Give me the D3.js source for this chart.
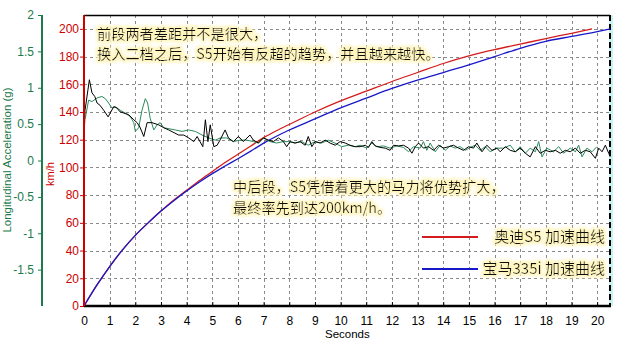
<!DOCTYPE html>
<html>
<head>
<meta charset="utf-8">
<script src="https://cdn.jsdelivr.net/npm/d3@7"></script>
<style>
  body { margin: 0; background: #fff; }
  svg { display: block; }
</style>
</head>
<body>
<div id="chart"></div>
<script>
// seconds on the x axis, speed ticks (km/h), acceleration ticks (g)
const seconds = d3.range(0, 21);
const kmhTicks = d3.range(0, 201, 20);
const gTicks = [-1.5, -1, -0.5, 0, 0.5, 1, 1.5, 2];

// speed curves
const audiT = [0, 0.5, 1, 1.5, 2, 2.5, 3, 3.5, 4, 4.5, 5, 5.5, 6, 6.5, 7, 7.5, 8, 9, 10, 11, 12, 13, 14, 15, 16, 17, 18, 19, 19.8];
const audiKmh = [0, 15, 28.5, 40.5, 51, 60, 68.5, 76.5, 83.5, 90.5, 97, 103.5, 109.5, 115.5, 121.5, 126.5, 131, 140, 148, 155, 162, 168.5, 175, 180.5, 185, 189, 193, 196.8, 200];
const bmwT = [0, 0.5, 1, 1.5, 2, 2.5, 3, 3.5, 4, 4.5, 5, 5.5, 6, 6.5, 7, 7.5, 8, 9, 10, 11, 12, 13, 14, 15, 16, 17, 18, 19, 20, 20.5];
const bmwKmh = [0, 15, 28.5, 40.5, 51, 60, 68.5, 76, 83, 89.5, 95.5, 101, 106.3, 111.8, 117.5, 122.5, 127, 135, 143, 150, 157, 163, 168.5, 174, 180, 186, 191, 194.5, 198, 200];

// longitudinal acceleration traces [seconds, g]
const accelBlack = [
  [0, 0.45], [0.04, 0.69], [0.21, 1.11], [0.31, 0.93], [0.42, 0.88], [0.51, 0.79], [0.62, 0.76], [0.77, 0.69], [0.94, 0.60],
  [1.16, 0.74], [1.29, 0.72], [1.40, 0.67], [1.74, 0.63], [1.94, 0.56], [2.07, 0.52], [2.18, 0.46], [2.33, 0.33], [2.46, 0.52],
  [2.65, 0.52], [2.91, 0.49], [3.11, 0.45], [3.30, 0.42], [3.69, 0.35], [3.89, 0.35], [4.08, 0.31], [4.28, 0.26], [4.41, 0.33],
  [4.63, 0.19], [4.73, 0.56], [4.83, 0.26], [4.92, 0.49], [5.06, 0.19], [5.19, 0.21], [5.30, 0.28], [5.50, 0.42], [5.63, 0.31],
  [5.82, 0.26], [6.02, 0.33], [6.21, 0.26], [6.47, 0.35], [6.60, 0.28], [6.80, 0.24], [6.99, 0.31], [7.19, 0.28], [7.38, 0.26],
  [7.58, 0.31], [7.77, 0.26], [7.90, 0.19], [8.03, 0.26], [8.23, 0.24], [8.42, 0.26], [8.62, 0.21], [8.74, 0.33], [8.88, 0.19],
  [9.01, 0.26], [9.20, 0.24], [9.40, 0.28], [9.59, 0.24], [9.79, 0.21], [9.98, 0.26], [10.18, 0.24], [10.37, 0.21], [10.57, 0.19],
  [10.76, 0.19], [10.96, 0.21], [11.09, 0.18], [11.22, 0.26], [11.35, 0.20], [11.54, 0.18], [11.74, 0.17], [11.93, 0.14],
  [12.06, 0.21], [12.26, 0.20], [12.45, 0.21], [12.65, 0.17], [12.78, 0.10], [12.91, 0.19], [13.04, 0.24], [13.23, 0.17],
  [13.43, 0.19], [13.62, 0.14], [13.82, 0.21], [14.01, 0.17], [14.21, 0.19], [14.40, 0.21], [14.60, 0.17], [14.79, 0.14],
  [14.99, 0.19], [15.18, 0.17], [15.31, 0.24], [15.51, 0.12], [15.70, 0.21], [15.90, 0.14], [16.09, 0.17], [16.22, 0.12],
  [16.42, 0.19], [16.61, 0.14], [16.81, 0.12], [17.00, 0.17], [17.20, 0.10], [17.39, 0.05], [17.59, 0.19], [17.78, 0.10],
  [17.98, 0.14], [18.17, 0.12], [18.37, 0.14], [18.56, 0.10], [18.76, 0.14], [18.95, 0.12], [19.15, 0.17], [19.34, 0.10],
  [19.54, 0.14], [19.73, 0.12], [19.93, 0.03], [20.06, 0.17], [20.19, 0.12], [20.32, 0.21], [20.45, 0.10], [20.51, 0.05]
];
const accelGreen = [
  [0, 0.40], [0.04, 0.56], [0.18, 0.83], [0.31, 0.81], [0.51, 0.86], [0.70, 0.88], [0.83, 0.85], [0.96, 0.79], [1.09, 0.72],
  [1.22, 0.74], [1.42, 0.69], [1.61, 0.65], [1.81, 0.60], [1.94, 0.52], [2.00, 0.40], [2.13, 0.45], [2.26, 0.69], [2.39, 0.85],
  [2.48, 0.79], [2.58, 0.58], [2.72, 0.42], [2.85, 0.49], [2.97, 0.52], [3.11, 0.45], [3.56, 0.42], [3.82, 0.40], [4.08, 0.42],
  [4.34, 0.40], [4.60, 0.35], [4.86, 0.31], [5.12, 0.28], [5.31, 0.31], [5.56, 0.31], [5.82, 0.26], [6.08, 0.28], [6.34, 0.28],
  [6.60, 0.26], [6.79, 0.24], [6.99, 0.31], [7.25, 0.26], [7.51, 0.24], [7.77, 0.26], [7.96, 0.26], [8.22, 0.24], [8.48, 0.26],
  [8.74, 0.21], [9.00, 0.26], [9.26, 0.24], [9.52, 0.28], [9.78, 0.24], [10.04, 0.19], [10.30, 0.21], [10.57, 0.19],
  [10.76, 0.21], [11.02, 0.17], [11.22, 0.24], [11.41, 0.19], [11.67, 0.20], [11.93, 0.17], [12.19, 0.20], [12.45, 0.18],
  [12.65, 0.12], [12.84, 0.19], [13.10, 0.17], [13.23, 0.26], [13.36, 0.14], [13.49, 0.24], [13.69, 0.12], [13.88, 0.21],
  [14.08, 0.14], [14.27, 0.20], [14.47, 0.17], [14.66, 0.19], [14.86, 0.14], [15.05, 0.18], [15.25, 0.21], [15.44, 0.14],
  [15.64, 0.19], [15.83, 0.12], [16.09, 0.17], [16.35, 0.17], [16.61, 0.21], [16.81, 0.12], [17.00, 0.19], [17.20, 0.10],
  [17.39, 0.17], [17.59, 0.12], [17.72, 0.26], [17.85, 0.05], [18.04, 0.17], [18.30, 0.12], [18.50, 0.19], [18.69, 0.10],
  [18.95, 0.17], [19.15, 0.12], [19.28, 0.21], [19.41, 0.05], [19.60, 0.17], [19.80, 0.12], [19.99, 0.19]
];

const legendLabels = ["奥迪S5 加速曲线", "宝马335i 加速曲线"];
const noteTop = ["前段两者差距并不是很大，", "换入二档之后，S5开始有反超的趋势，并且越来越快。"];
const noteMid = ["中后段，S5凭借着更大的马力将优势扩大，", "最终率先到达200km/h。"];

const width = 620, height = 351;
const red = "#cc0000", green = "#1c7a4c";
const numFont = "'Liberation Sans', Arial, sans-serif";
const cjkFont = "'Noto Sans CJK SC', sans-serif";

const svg = d3.select("#chart").append("svg")
  .attr("width", width)
  .attr("height", height);

const defs = svg.append("defs");
const glow = defs.append("filter").attr("id", "glow")
  .attr("x", "-5%").attr("y", "-30%").attr("width", "110%").attr("height", "160%");
glow.append("feMorphology").attr("in", "SourceAlpha").attr("operator", "dilate").attr("radius", 2).attr("result", "d");
glow.append("feGaussianBlur").attr("in", "d").attr("stdDeviation", 1.8).attr("result", "b");
glow.append("feFlood").attr("flood-color", "#fff5bc").attr("result", "f");
glow.append("feComposite").attr("in", "f").attr("in2", "b").attr("operator", "in").attr("result", "g");
const merge = glow.append("feMerge");
merge.append("feMergeNode").attr("in", "g");
merge.append("feMergeNode").attr("in", "SourceGraphic");

const x = d3.scaleLinear().domain([0, 20.5]).range([84, 610]);
const yKmh = d3.scaleLinear().domain([0, 210]).range([306, 15]);
const yG = d3.scaleLinear().domain([-2, 2]).range([306, 15]);

// grid
const grid = svg.append("g")
  .attr("stroke", "#8a8a8a")
  .attr("stroke-dasharray", "3,3")
  .attr("stroke-width", 1);
grid.selectAll("line.v")
  .data(seconds.filter(d => d > 0))
  .join("line")
  .attr("class", "v")
  .attr("x1", d => Math.round(x(d)) + 0.5).attr("x2", d => Math.round(x(d)) + 0.5)
  .attr("y1", 15).attr("y2", 306);
grid.selectAll("line.h")
  .data(kmhTicks.filter(d => d > 0))
  .join("line")
  .attr("class", "h")
  .attr("y1", d => Math.round(yKmh(d)) + 0.5).attr("y2", d => Math.round(yKmh(d)) + 0.5)
  .attr("x1", 84).attr("x2", 610);

// right edge and top frame
svg.append("rect").attr("x", 609).attr("y", 15).attr("width", 4).attr("height", 291).attr("fill", "#c6f2f6");
svg.append("line").attr("x1", 610).attr("x2", 610).attr("y1", 15).attr("y2", 306)
  .attr("stroke", "#000").attr("stroke-width", 2).attr("stroke-dasharray", "6,3");
svg.append("line").attr("x1", 84).attr("x2", 610).attr("y1", 15.5).attr("y2", 15.5)
  .attr("stroke", "#000").attr("stroke-width", 1.5);

// speed lines
const speedLine = d3.line().curve(d3.curveMonotoneX)
  .x(d => x(d[0])).y(d => yKmh(d[1]));
svg.append("path")
  .datum(d3.zip(audiT, audiKmh))
  .attr("fill", "none").attr("stroke", "#d41c1c").attr("stroke-width", 1.3)
  .attr("d", speedLine);
svg.append("path")
  .datum(d3.zip(bmwT, bmwKmh))
  .attr("fill", "none").attr("stroke", "#1818c8").attr("stroke-width", 1.3)
  .attr("d", speedLine);

// acceleration traces
const accelLine = d3.line().x(d => x(d[0])).y(d => yG(d[1]));
svg.append("path")
  .datum(accelGreen)
  .attr("fill", "none").attr("stroke", "#2a8a5a").attr("stroke-width", 1)
  .attr("d", accelLine);
svg.append("path")
  .datum(accelBlack)
  .attr("fill", "none").attr("stroke", "#000").attr("stroke-width", 1)
  .attr("d", accelLine);

// x axis
const xAxis = svg.append("g").attr("transform", "translate(0,306)");
xAxis.call(d3.axisBottom(x).tickValues(d3.range(0, 20.5, 0.2)).tickSize(-2).tickFormat(""));
xAxis.call(d3.axisBottom(x).tickValues(seconds).tickSize(-4).tickPadding(10).tickFormat(d3.format("d")));
xAxis.selectAll(".domain").remove();
xAxis.append("line").attr("x1", 84).attr("x2", 611).attr("stroke", "#000").attr("stroke-width", 2.5);
xAxis.selectAll("text").attr("font-family", numFont).attr("font-size", 12).attr("fill", "#000");
svg.append("text")
  .attr("x", 325).attr("y", 338)
  .attr("font-family", numFont).attr("font-size", 11.5)
  .text("Seconds");

// speed axis (red)
const kAxis = svg.append("g").attr("transform", "translate(84,0)");
kAxis.call(d3.axisLeft(yKmh).tickValues(d3.range(0, 210, 4)).tickSize(2).tickFormat(""));
kAxis.call(d3.axisLeft(yKmh).tickValues(kmhTicks).tickSize(4).tickPadding(1));
kAxis.selectAll(".domain").remove();
kAxis.selectAll("line").attr("stroke", red);
kAxis.append("line").attr("y1", 15).attr("y2", 306).attr("stroke", red).attr("stroke-width", 2);
kAxis.selectAll("text").attr("font-family", numFont).attr("font-size", 12).attr("fill", red);
svg.append("text")
  .attr("transform", "translate(54,174) rotate(-90)")
  .attr("text-anchor", "middle")
  .attr("font-family", numFont).attr("font-size", 11).attr("fill", red)
  .text("km/h");

// acceleration axis (green)
const gAxis = svg.append("g").attr("transform", "translate(42,0)");
gAxis.call(d3.axisLeft(yG).tickValues(d3.range(-20, 21).map(d => d / 10)).tickSize(2).tickFormat(""));
gAxis.call(d3.axisLeft(yG).tickValues(gTicks).tickSize(4).tickPadding(4).tickFormat(d => d));
gAxis.selectAll(".domain").remove();
gAxis.selectAll("line").attr("stroke", green);
gAxis.append("line").attr("y1", 15).attr("y2", 306).attr("stroke", green).attr("stroke-width", 2);
gAxis.selectAll("text").attr("font-family", numFont).attr("font-size", 12).attr("fill", green);
svg.append("text")
  .attr("transform", "translate(11,160) rotate(-90)")
  .attr("text-anchor", "middle")
  .attr("font-family", numFont).attr("font-size", 11.5).attr("fill", green)
  .text("Longitudinal Acceleration (g)");

// notes, one text per line
function note(lines, x0, y0) {
  svg.append("g")
    .selectAll("text")
    .data(lines)
    .join("text")
    .attr("x", x0)
    .attr("y", (d, i) => y0 + i * 20.5)
    .attr("font-family", cjkFont).attr("font-size", 14.2).attr("fill", "#111")
    .attr("filter", "url(#glow)")
    .text(d => d);
}
note(noteTop, 97, 38.5);
note(noteMid, 233, 192);

// legend
const legend = svg.append("g");
const legendColors = ["#d41c1c", "#1818c8"];
const legendY = [237, 269];
legend.selectAll("line")
  .data(legendLabels)
  .join("line")
  .attr("x1", 422).attr("x2", 478)
  .attr("y1", (d, i) => legendY[i]).attr("y2", (d, i) => legendY[i])
  .attr("stroke", (d, i) => legendColors[i]).attr("stroke-width", 2);
legend.selectAll("text")
  .data(legendLabels)
  .join("text")
  .attr("x", 605)
  .attr("y", (d, i) => legendY[i] + 5)
  .attr("text-anchor", "end")
  .attr("font-family", cjkFont).attr("font-size", 15).attr("fill", "#111")
  .attr("filter", "url(#glow)")
  .text(d => d);
</script>
</body>
</html>
